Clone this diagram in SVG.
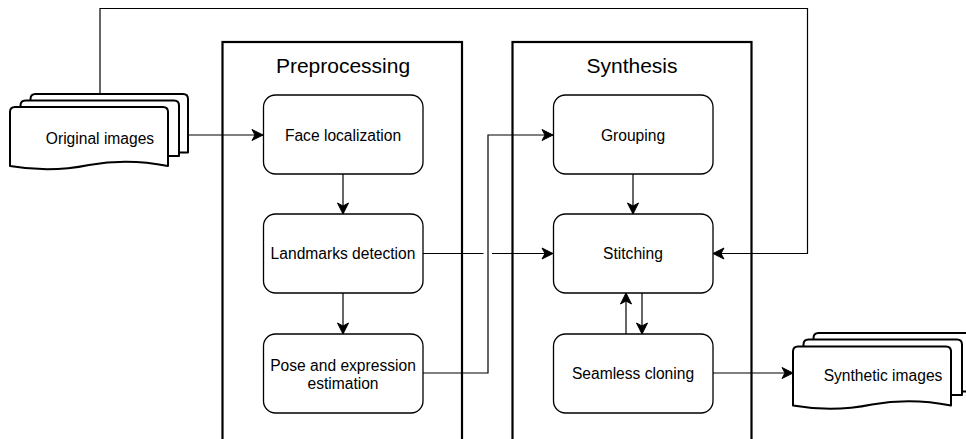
<svg xmlns="http://www.w3.org/2000/svg" width="966" height="439" viewBox="0 0 966 439">
<style>
text{font-family:"Liberation Sans",Arial,Helvetica,sans-serif;fill:#000;text-anchor:middle}
.lbl{font-size:15.6px}
.title{font-size:21px}
.cont{fill:none;stroke:#000;stroke-width:2.2}
.node{fill:#fff;stroke:#000;stroke-width:1.3}
.doc{fill:#fff;stroke:#000;stroke-width:2;stroke-linejoin:round}
.edge{fill:none;stroke:#000;stroke-width:1.2}
</style>
<defs>
<marker id="arr" markerUnits="userSpaceOnUse" markerWidth="14" markerHeight="14" viewBox="-12 -7 14 14" refX="0" refY="0" orient="auto">
<path d="M0,0 L-11,-5.5 L-8,0 L-11,5.5 Z" fill="#000" stroke="#000" stroke-width="1"/>
</marker>
<path id="page" d="M0,5 Q0,0 5,0 L153,0 Q158,0 158,5 L158,59 Q118,51 79,58 Q40,66 0,59 Z"/>
</defs>

<g id="preprocessing">
<rect class="cont" x="222.5" y="42" width="239.5" height="420"/>
<text class="title" x="343" y="72.5">Preprocessing</text>
</g>
<g id="synthesis">
<rect class="cont" x="512.5" y="42" width="239" height="420"/>
<text class="title" x="632" y="72.5">Synthesis</text>
</g>

<g id="connectors">
<path class="edge" d="M188,135 L263,135" marker-end="url(#arr)"/>
<path class="edge" d="M343,174 L343,214" marker-end="url(#arr)"/>
<path class="edge" d="M343,293 L343,334" marker-end="url(#arr)"/>
<path class="edge" d="M423,253.5 L483.5,253.5 M492,253.5 L553,253.5" marker-end="url(#arr)"/>
<path class="edge" d="M423,373 L488,373 L488,135 L553,135" marker-end="url(#arr)"/>
<path class="edge" d="M633,174 L633,214" marker-end="url(#arr)"/>
<path class="edge" d="M626,334 L626,293" marker-end="url(#arr)"/>
<path class="edge" d="M642,293 L642,334" marker-end="url(#arr)"/>
<path class="edge" d="M100,94 L100,8.5 L807.5,8.5 L807.5,253.5 L713,253.5" marker-end="url(#arr)"/>
<path class="edge" d="M713,373 L793,373" marker-end="url(#arr)"/>
</g>

<g id="original-images">
<path class="doc" d="M30.5,101 L30.5,99 Q30.5,94 35.5,94 L183,94 Q188,94 188,99 L188,152.5 L179,152.5 L179,106 L30.5,106 Z"/>
<path class="doc" d="M20.5,107.5 L20.5,105.5 Q20.5,100.5 25.5,100.5 L174,100.5 Q179,100.5 179,105.5 L179,156 L168,156 L168,112 L20.5,112 Z"/>
<use href="#page" class="doc" x="10" y="107"/>
<text class="lbl" x="100" y="143.5">Original images</text>
</g>

<g id="face-localization">
<rect class="node" x="263.5" y="95" width="159.5" height="79" rx="12"/>
<text class="lbl" x="343" y="140.5">Face localization</text>
</g>
<g id="landmarks-detection">
<rect class="node" x="263.5" y="214" width="159.5" height="79" rx="12"/>
<text class="lbl" x="343" y="259">Landmarks detection</text>
</g>
<g id="pose-estimation">
<rect class="node" x="263.5" y="334" width="159.5" height="79" rx="12"/>
<text class="lbl" x="343" y="370.5">Pose and expression</text>
<text class="lbl" x="343" y="389">estimation</text>
</g>

<g id="grouping">
<rect class="node" x="553.5" y="95" width="159.5" height="79" rx="12"/>
<text class="lbl" x="633" y="140.5">Grouping</text>
</g>
<g id="stitching">
<rect class="node" x="553.5" y="214" width="159.5" height="79" rx="12"/>
<text class="lbl" x="633" y="259">Stitching</text>
</g>
<g id="seamless-cloning">
<rect class="node" x="553.5" y="334" width="159.5" height="79" rx="12"/>
<text class="lbl" x="633" y="378.5">Seamless cloning</text>
</g>

<g id="synthetic-images">
<path class="doc" d="M813.5,340 L813.5,338 Q813.5,333 818.5,333 L966,333 Q971,333 971,338 L971,391.5 L961,391.5 L961,345 L813.5,345 Z"/>
<path class="doc" d="M803.5,346.5 L803.5,344.5 Q803.5,339.5 808.5,339.5 L957,339.5 Q962,339.5 962,344.5 L962,395 L951,395 L951,351 L803.5,351 Z"/>
<use href="#page" class="doc" x="793" y="346.5"/>
<text class="lbl" x="883" y="380.5">Synthetic images</text>
</g>
</svg>
